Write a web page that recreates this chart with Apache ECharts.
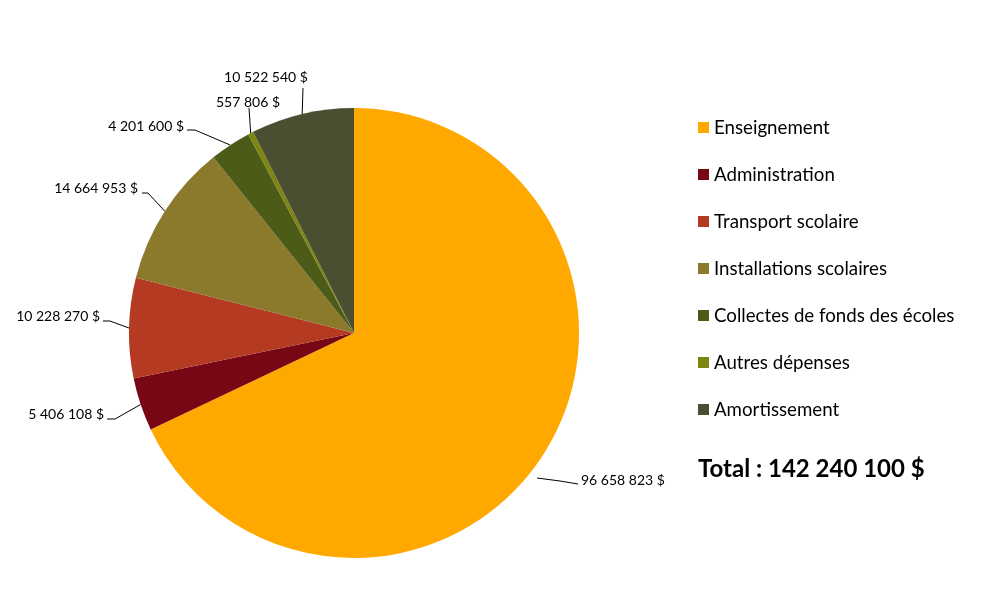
<!DOCTYPE html>
<html>
<head>
<meta charset="utf-8">
<script src="https://cdn.jsdelivr.net/npm/echarts@6/dist/echarts.min.js"></script>
<style>
  html, body { margin: 0; padding: 0; background: #fff; }
  #chart { width: 984px; height: 612px; }
</style>
</head>
<body>
<div id="chart"></div>
<script>
// catégories et montants (dépenses)
var categories = [
  'Enseignement',
  'Administration',
  'Transport scolaire',
  'Installations scolaires',
  'Collectes de fonds des écoles',
  'Autres dépenses',
  'Amortissement'
]
var amounts = [96658823, 5406108, 10228270, 14664953, 4201600, 557806, 10522540]
var colors = ['#FFA800', '#780716', '#B43A21', '#8B7A2C', '#4D5B19', '#7E8510', '#4A4F31']
var totalText = 'Total : 142 240 100 $'

// placement des étiquettes : [x, y, align, vAlign, coude x, coude y, fin x, fin y, (départ x, départ y)]
var labelSpots = [
  [581, 480, 'left', 'middle', 560, 481, 578, 484, 537, 478],
  [104, 414, 'right', 'middle', 115, 419, 107, 419],
  [100, 316, 'right', 'middle', 110, 321, 103, 321],
  [138, 188, 'right', 'middle', 148, 193, 142, 193],
  [184, 126, 'right', 'middle', 195, 130, 187, 130],
  [248, 109, 'center', 'bottom', 249, 108, 249, 108],
  [266, 84, 'center', 'bottom', 303, 88, 303, 88]
]

function fmt(v) {
  return String(v).replace(/\B(?=(\d{3})+(?!\d))/g, ' ') + ' $'
}

var chart = echarts.init(document.getElementById('chart'))
var option = {
  color: colors,
  textStyle: { fontFamily: 'Lato, "Open Sans", sans-serif' },
  legend: {
    orient: 'vertical',
    left: 693,
    top: 113,
    itemWidth: 11,
    itemHeight: 11,
    itemGap: 28,
    icon: 'rect',
    textStyle: { fontSize: 18.7, color: '#000', fontFamily: 'Lato, sans-serif' },
    data: categories
  },
  graphic: [
    {
      type: 'text',
      left: 698,
      top: 457,
      style: {
        text: totalText,
        fontSize: 24,
        fontWeight: 'bold',
        fill: '#000',
        fontFamily: 'Lato, sans-serif'
      }
    }
  ],
  series: [
    {
      type: 'pie',
      center: [354, 333],
      radius: 225,
      startAngle: 90,
      clockwise: true,
      label: {
        show: true,
        position: 'outside',
        fontSize: 14,
        color: '#000',
        fontFamily: 'Lato, sans-serif',
        formatter: function (p) { return fmt(p.value) }
      },
      labelLine: {
        show: true,
        length: 12,
        length2: 20,
        lineStyle: { color: '#000', width: 1 }
      },
      labelLayout: function (params) {
        var s = labelSpots[params.dataIndex]
        var p0 = s.length > 8 ? [s[8], s[9]]
          : (params.labelLinePoints ? params.labelLinePoints[0] : [s[4], s[5]])
        return {
          x: s[0],
          y: s[1],
          align: s[2],
          verticalAlign: s[3],
          labelLinePoints: [p0, [s[4], s[5]], [s[6], s[7]]]
        }
      },
      itemStyle: { borderWidth: 0 },
      emphasis: { disabled: true },
      data: categories.map(function (c, i) {
        return { name: c, value: amounts[i] }
      })
    }
  ]
}
chart.setOption(option)
</script>
</body>
</html>
